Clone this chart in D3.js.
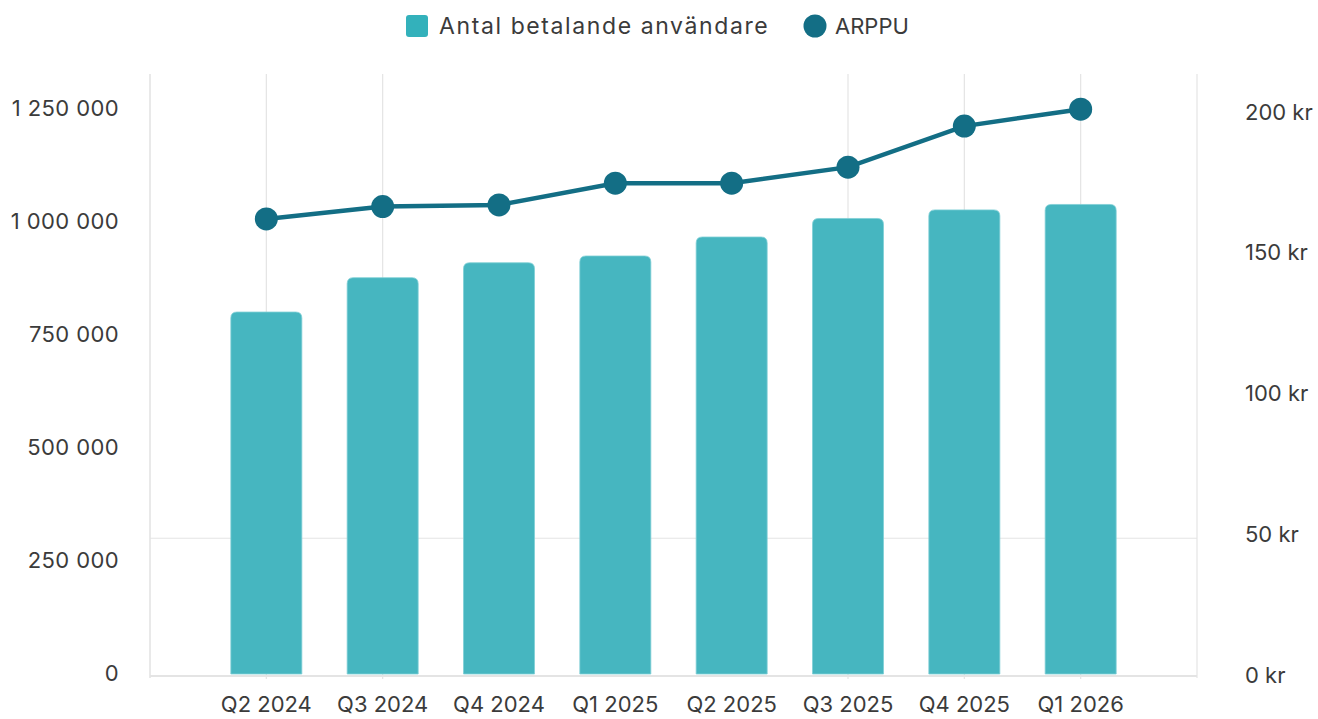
<!DOCTYPE html>
<html>
<head>
<meta charset="utf-8">
<title>Betalande användare och ARPPU</title>
<script src="https://d3js.org/d3.v7.min.js"></script>
<style>
  body { margin: 0; background: #fff; }
  #chart text { font-family: Inter, "Noto Sans", sans-serif; fill: #3b3b3b; }
</style>
</head>
<body>
<svg id="chart"></svg>
<script>
// data
var categories = ["Q2 2024", "Q3 2024", "Q4 2024", "Q1 2025", "Q2 2025", "Q3 2025", "Q4 2025", "Q1 2026"];
var users = [803000, 879000, 912000, 927000, 969000, 1010000, 1029000, 1041000];
var arppu = [162, 166.4, 167, 174.7, 174.7, 180.4, 195, 201];
var leftTicks = [0, 250000, 500000, 750000, 1000000, 1250000];
var rightTicks = [0, 50, 100, 150, 200];
var gridCats = ["Q2 2024", "Q3 2024", "Q3 2025", "Q4 2025", "Q1 2026"];

var W = 1318, H = 719;
var plot = {left: 150, right: 1197, top: 74, bottom: 675};

var svg = d3.select("#chart").attr("width", W).attr("height", H);

var x = d3.scalePoint()
    .domain(categories)
    .range([plot.left, plot.right])
    .padding(1);

var yL = d3.scaleLinear().domain([0, 1250000]).range([plot.bottom, 110]);
var yR = d3.scaleLinear().domain([0, 200]).range([plot.bottom, 112]);

var fmt = function (v) { return d3.format(",")(v).replace(/,/g, " "); };

// grid
var grid = svg.append("g").attr("stroke", "#e4e4e4").attr("stroke-width", 1.2);
grid.selectAll("line.v")
    .data(gridCats)
    .enter().append("line")
    .attr("x1", function (d) { return x(d); })
    .attr("x2", function (d) { return x(d); })
    .attr("y1", plot.top).attr("y2", plot.bottom + 4);
grid.append("line")
    .attr("x1", plot.left).attr("x2", plot.right)
    .attr("y1", yR(50) + 4).attr("y2", yR(50) + 4);
grid.append("line")
    .attr("x1", plot.left).attr("x2", plot.left)
    .attr("y1", plot.top).attr("y2", plot.bottom + 3)
    .attr("stroke-width", 1.6);
grid.append("line")
    .attr("x1", plot.right).attr("x2", plot.right)
    .attr("y1", plot.top).attr("y2", plot.bottom + 3);
grid.append("line")
    .attr("x1", plot.left).attr("x2", plot.right)
    .attr("y1", plot.bottom + 1).attr("y2", plot.bottom + 1)
    .attr("stroke-width", 2);

// bars
var bw = 71, r = 6;
function barPath(cx, top, bottom) {
  var l = cx - bw / 2, rt = cx + bw / 2;
  return "M" + l + "," + bottom +
    "V" + (top + r) + "Q" + l + "," + top + " " + (l + r) + "," + top +
    "H" + (rt - r) + "Q" + rt + "," + top + " " + rt + "," + (top + r) +
    "V" + bottom + "Z";
}
svg.append("g").selectAll("path")
    .data(users)
    .enter().append("path")
    .attr("d", function (d, i) { return barPath(x(categories[i]), yL(d), yL(0) - 1); })
    .attr("fill", "#46b6c0")
    .attr("stroke", "#7fcfd6")
    .attr("stroke-width", 0.8);

// line
var line = d3.line()
    .x(function (d, i) { return x(categories[i]); })
    .y(function (d) { return yR(d); });
svg.append("path")
    .datum(arppu)
    .attr("d", line)
    .attr("fill", "none")
    .attr("stroke", "#136e85")
    .attr("stroke-width", 4.5);
svg.append("g").selectAll("circle")
    .data(arppu)
    .enter().append("circle")
    .attr("cx", function (d, i) { return x(categories[i]); })
    .attr("cy", function (d) { return yR(d); })
    .attr("r", 11.5)
    .attr("fill", "#136e85");

// axes labels
var axL = d3.axisLeft(yL).tickValues(leftTicks).tickFormat(fmt).tickSize(0).tickPadding(0);
svg.append("g")
    .attr("transform", "translate(119,-2)")
    .call(axL)
    .call(function (g) { g.select(".domain").remove(); })
    .selectAll("text").style("font-size", "22px").style("letter-spacing", "0.4px");

var axR = d3.axisRight(yR).tickValues(rightTicks).tickFormat(function (d) { return d + " kr"; }).tickSize(0).tickPadding(0);
svg.append("g")
    .attr("transform", "translate(1245,0)")
    .call(axR)
    .call(function (g) { g.select(".domain").remove(); })
    .selectAll("text").style("font-size", "22px");

svg.append("g").selectAll("text")
    .data(categories)
    .enter().append("text")
    .attr("x", function (d) { return x(d); })
    .attr("y", 712)
    .attr("text-anchor", "middle")
    .style("font-size", "22px")
    .text(function (d) { return d; });

// legend
var leg = svg.append("g");
leg.append("rect")
    .attr("x", 406).attr("y", 15).attr("width", 22).attr("height", 22).attr("rx", 3)
    .attr("fill", "#33b1bb");
leg.append("text")
    .attr("x", 439).attr("y", 34)
    .style("font-size", "23px")
    .style("letter-spacing", "1.6px")
    .text("Antal betalande användare");
leg.append("circle")
    .attr("cx", 815).attr("cy", 26).attr("r", 11.5)
    .attr("fill", "#136e85");
leg.append("text")
    .attr("x", 835).attr("y", 34)
    .style("font-size", "22px")
    .text("ARPPU");
</script>
</body>
</html>
